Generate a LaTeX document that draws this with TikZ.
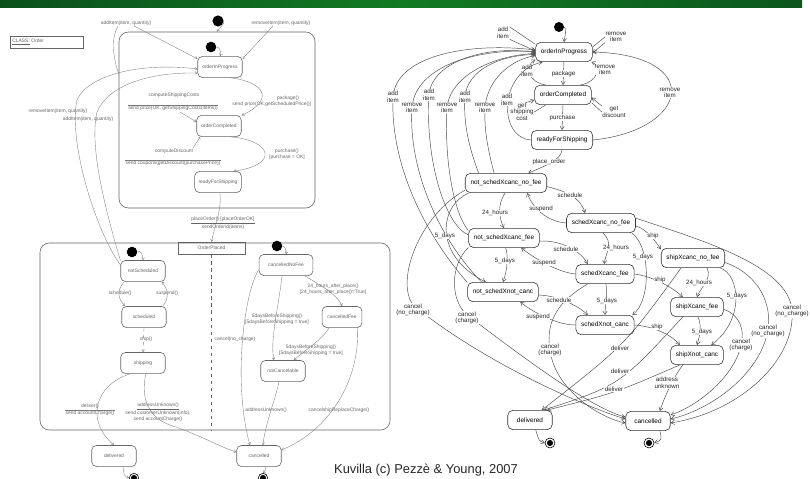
\documentclass[tikz,border=0pt]{standalone}
\usepackage{fontspec}
\setmainfont{Liberation Sans}
\usetikzlibrary{arrows.meta,positioning}
\definecolor{bardark}{RGB}{10,80,28}
\definecolor{barlight}{RGB}{18,122,34}
\definecolor{scan}{RGB}{100,100,100}
\tikzset{
  st/.style={draw=black!80, line width=0.5pt, rounded corners=4.5pt, fill=white,
    minimum height=16.5pt, minimum width=38pt, inner xsep=4.5pt, font=\fontsize{5.5}{6}\selectfont},
  lab/.style={fill=white, inner sep=0.4pt, align=center, text=black!85, font=\fontsize{5.3}{5.6}\selectfont},
  tr/.style={draw=black!70, line width=0.4pt, -{Straight Barb[length=3pt,width=3.6pt]}},
  ln/.style={draw=black!70, line width=0.4pt},
  ini/.style={circle, fill=black, inner sep=0pt, minimum size=8.5pt},
  fin/.style={circle, draw=black, line width=0.5pt, inner sep=0pt, minimum size=8.5pt,
    path picture={\fill (path picture bounding box.center) circle (2.6pt);}},
  lst/.style={draw=scan, line width=0.5pt, rounded corners=4pt, fill=white,
    minimum height=18pt, minimum width=38pt, text=scan, font=\fontsize{4.2}{4.8}\selectfont},
  stx/.style={inner sep=0.3pt, align=center, text=scan, font=\fontsize{4.2}{4.8}\selectfont},
  ltr/.style={draw=scan!85, line width=0.3pt, -{Straight Barb[length=2pt,width=2.4pt]}},
  lln/.style={draw=scan!85, line width=0.3pt},
}

\begin{document}
\begin{tikzpicture}[x=0.03cm,y=-0.03cm]
  \useasboundingbox (0,0) rectangle (810,479);
  \shade[left color=bardark, right color=bardark!85!barlight, middle color=barlight] (0,0) rectangle (802,7.5);

  % left: scanned statechart
  \node[stx, draw=scan, line width=0.4pt, minimum height=0.36cm, text width=2.05cm, inner xsep=2pt, align=left] (cls) at (46.5,42) {\underline{CLASS:} Order};
  \node[draw=scan, line width=0.5pt, rounded corners=8pt, minimum width=5.88cm, minimum height=5.28cm] (obox) at (217,120) {};
  \node[draw=scan, line width=0.5pt, rounded corners=8pt, minimum width=10.5cm, minimum height=5.61cm] (pbox) at (215,336.5) {};
  \node[stx, draw=scan, line width=0.4pt, minimum width=2.01cm, minimum height=0.36cm] (op) at (211.5,248) {OrderPlaced};
  \draw[scan, dashed, line width=0.3pt] (op.south) -- (op.south |- pbox.south);

  \node[ini, minimum size=9.5pt] (li1) at (218,21) {};
  \node[ini, minimum size=9pt] (li2) at (211,47) {};
  \node[lst] (lip) at (220,67) {orderInProgress};
  \node[lst] (loc) at (219,126) {orderCompleted};
  \node[lst] (lrs) at (218,182) {readyForShipping};
  \node[ini, minimum size=9pt] (li3) at (132,252) {};
  \node[lst] (lns) at (143,271) {notScheduled};
  \node[lst] (lsc) at (144,317) {scheduled};
  \node[lst] (lsh) at (143,363) {shipping};
  \node[lst] (ldl) at (114,456) {delivered};
  \node[lst] (lcn) at (259,456) {cancelled};
  \node[ini, minimum size=9pt] (li4) at (277,246) {};
  \node[lst, minimum width=46pt] (lcnf) at (286,265) {cancelledNoFee};
  \node[lst, minimum width=34pt] (lcf) at (342,317) {cancelledFee};
  \node[lst] (lnc) at (283,371) {notCancelable};
  \node[fin, minimum size=8pt] (lfd) at (134,478) {};
  \node[fin, minimum size=8pt] (lfc) at (263,478) {};
  \coordinate (sl1) at (180,112);
  \coordinate (sl2) at (193,148);

  \node[stx] (t1) at (126,23) {addItem(item, quantity)};
  \node[stx] (t2) at (281,23) {removeItem(item, quantity)};
  \node[stx] (t3) at (58,111) {removeItem(item, quantity)};
  \node[stx] (t4) at (88,119) {addItem(item, quantity)};
  \node[stx] (t5) at (174,95) {computeShippingCosts};
  \node[stx] (t6) at (173,108) {send price(OK, getShippingCosts(items))};
  \draw[lln] (t6.north west) -- (t6.north east);
  \node[stx] (t7) at (288,98) {package()};
  \node[stx] (t8) at (272,104) {send price(OK,getScheduledPrice())};
  \node[stx] (t9) at (174,151) {computeDiscount};
  \node[stx] (t10) at (173,163) {send coupons(getDiscount(purchasePrice))};
  \draw[lln] (t10.north west) -- (t10.north east);
  \node[stx] (t11) at (287,154.5) {purchase()\\{}[purchase = OK]};
  \node[stx] (t12) at (223,223) {\underline{placeOrder() [placeOrderOK]}\\sendOrderId(items)};
  \node[stx] (t13) at (120,293) {schedule()};
  \node[stx] (t14) at (167,293) {suspend()};
  \node[stx] (t15) at (146,339) {ship()};
  \node[stx] (t16) at (90,406) {deliver()};
  \node[stx] (t17) at (90,413) {send accountCharge()};
  \draw[lln] (t17.north west) -- (t17.north east);
  \node[stx] (t18) at (158,412) {\underline{addressUnknown()}\\send customerUnknown(info),\\send accountCharge()};
  \node[stx] (t19) at (235,339) {cancel(no\_charge)};
  \node[stx] (t20) at (333,289.5) {24\_hours\_after\_place()\\{}[24\_hours\_after\_place()=True]};
  \node[stx] (t21) at (277,319.5) {5daysBeforeShipping()\\{}[5daysBeforeShipping = true]};
  \node[stx] (t22) at (311,350.5) {5daysBeforeShipping()\\{}[5daysBeforeShipping = true]};
  \node[stx] (t23) at (266,410) {addressUnknown()};
  \node[stx] (t24) at (339,410) {cancelshipReplaceCharge()};

  \draw[ltr] (li1.east) .. controls (225,24) and (219,28) .. (obox.north);
  \draw[ltr] (li2.east) .. controls (218,46) and (222,51) .. (lip.north);
  \draw[ltr] (t1.-20) -- (lip.160);
  \draw[lln] (t1.-160) .. controls (110,40) and (114,60) .. (obox.155);
  \draw[ltr] (t2.-160) -- (lip.20);
  \draw[ltr] (lip.-45) .. controls (265,82) and (275,100) .. (loc.25);
  \draw[ltr] (sl1) -- (loc.170);
  \draw[ltr] (sl2) -- (loc.-150);
  \draw[ltr] (loc.-45) .. controls (272,140) and (280,165) .. (lrs.35);
  \draw[ltr] (lrs.-80) .. controls (222,210) and (214,228) .. (op.north);
  \draw[ltr] (lns.165) .. controls (95,230) and (68,140) .. (77,100) .. controls (88,75) and (140,62) .. (lip.185);
  \draw[ltr] (lns.155) .. controls (110,225) and (88,150) .. (97,112) .. controls (108,85) and (150,72) .. (lip.195);
  \draw[ltr] (li3.east) .. controls (140,250) and (143,254) .. (lns.north);
  \draw[ltr] (lns.-150) .. controls (117,290) and (117,298) .. (lsc.150);
  \draw[ltr] (lsc.30) .. controls (169,298) and (169,290) .. (lns.-30);
  \draw[ltr, dashed] (lsc.south) -- (lsh.north);
  \draw[ltr] (lsh.-140) .. controls (95,385) and (85,420) .. (ldl.north);
  \draw[ltr] (lsh.-75) .. controls (140,400) and (150,418) .. (170,425) .. controls (200,435) and (220,447) .. (lcn.170);
  \draw[ltr] (li4.east) .. controls (284,246) and (287,250) .. (lcnf.north);
  \draw[ltr] (lcnf.190) .. controls (245,290) and (232,380) .. (lcn.130);
  \draw[ltr] (lcnf.-30) .. controls (320,285) and (338,295) .. (lcf.north);
  \draw[ltr] (lcnf.-110) .. controls (278,310) and (270,340) .. (lnc.130);
  \draw[ltr] (lcf.-140) .. controls (322,340) and (305,350) .. (lnc.45);
  \draw[ltr] (lnc.-110) .. controls (275,400) and (265,425) .. (lcn.70);
  \draw[ltr] (lcf.-35) .. controls (360,380) and (330,430) .. (lcn.15);
  \draw[ltr] (ldl.-50) .. controls (124,476) .. (lfd.west);
  \draw[ltr] (lcn.-60) .. controls (266,470) .. (lfc.north);

  % right: order states
  \node[ini] (i0) at (559,27) {};
  \node[st] (ip) at (564,52) {orderInProgress};
  \node[st] (oc) at (563,95) {orderCompleted};
  \node[st] (rs) at (562,140) {readyForShipping};
  \node[st] (n0) at (506,183) {not\_schedXcanc\_no\_fee};
  \node[st] (n1) at (504,238) {not\_schedXcanc\_fee};
  \node[st] (n2) at (503,292) {not\_schedXnot\_canc};
  \node[st] (s0) at (601,223) {schedXcanc\_no\_fee};
  \node[st] (s1) at (605,274) {schedXcanc\_fee};
  \node[st] (s2) at (605,325) {schedXnot\_canc};
  \node[st] (h0) at (693,258) {shipXcanc\_no\_fee};
  \node[st] (h1) at (697,307) {shipXcanc\_fee};
  \node[st] (h2) at (697,355) {shipXnot\_canc};
  \node[st] (dl) at (530,420) {delivered};
  \node[st] (cn) at (648,421) {cancelled};
  \node[fin] (dlf) at (550,443) {};
  \node[fin] (cnf) at (649,443) {};

  \draw[tr] (i0.east) .. controls (567,29) and (565,35) .. (ip.north);
  \node[lab, fill=none] (a1) at (503,33) {add\\item};
  \draw[ln] (a1.north east) -- (ip.165);
  \draw[tr] (a1.south east) -- (ip.178);
  \node[lab, fill=none] (r1) at (616,37) {remove\\item};
  \draw[ln] (r1.west) -- (ip.10);
  \draw[tr] (r1.south west) -- (ip.-2);
  \draw[tr] (ip.south) -- (oc.north) node[lab, midway] (pk) {package};
  \draw[tr] (oc.south) -- (rs.north) node[lab, midway] (pu) {purchase};
  \draw[tr] (oc.150) .. controls (528,82) and (524,66) .. (ip.195);
  \node[lab] (a2) at (527,71) {add\\item};
  \draw[tr] (oc.30) .. controls (598,82) and (602,66) .. (ip.-20);
  \node[lab] (r2) at (605,70) {remove\\item};
  \node[lab, fill=none] (gs) at (522,112) {get\\shipping\\cost};
  \draw[tr] (gs.70) -- (oc.190);
  \draw[ln] (gs.east) -- (oc.-150);
  \node[lab, fill=none] (gd) at (614,112) {get\\discount};
  \draw[tr] (gd.north west) -- (oc.-5);
  \draw[ln] (gd.west) -- (oc.-15);
  \draw[tr] (rs.east) .. controls (690,130) and (705,55) .. (ip.east);
  \node[lab] (r3) at (670,93) {remove\\item};
  \draw[tr] (rs.west) .. controls (498,138) and (498,72) .. (ip.-155);
  \node[lab] (a3) at (507,100) {add\\item};
  \draw[tr] (rs.south) .. controls (561,160) and (545,166) .. (n0.24);
  \node[lab] (po) at (549,162) {place\_order};

  \draw[tr] (n2.165) .. controls (430,240) and (390,170) .. (393,97) .. controls (396,55) and (470,42) .. (ip.176);
  \draw[tr] (n2.155) .. controls (440,240) and (408,170) .. (412,108) .. controls (415,65) and (480,48) .. (ip.179);
  \draw[tr] (n1.175) .. controls (445,225) and (425,160) .. (429,95) .. controls (432,60) and (490,45) .. (ip.181);
  \draw[tr] (n1.168) .. controls (455,215) and (444,165) .. (447,108) .. controls (450,75) and (495,55) .. (ip.183);
  \draw[tr] (n0.160) .. controls (470,150) and (463,125) .. (465,97) .. controls (467,70) and (500,55) .. (ip.185);
  \draw[tr] (n0.140) .. controls (488,150) and (484,130) .. (485,108) .. controls (487,80) and (510,60) .. (ip.187);
  \node[lab] (a4) at (393,97) {add\\item};
  \node[lab] (r4) at (412,108) {remove\\item};
  \node[lab] (a5) at (429,95) {add\\item};
  \node[lab] (r5) at (447,108) {remove\\item};
  \node[lab] (a6) at (465,97) {add\\item};
  \node[lab] (r6) at (485,108) {remove\\item};

  \draw[tr] (n0.-95) .. controls (497,205) and (499,218) .. (n1.north);
  \node[lab] (k1) at (495,213) {24\_hours};
  \draw[tr] (n1.-80) .. controls (508,255) and (508,268) .. (n2.north);
  \node[lab] (k2) at (505,261) {5\_days};
  \draw[tr] (n0.195) .. controls (440,205) and (432,255) .. (n2.150);
  \node[lab] (k3) at (445,236) {5\_days};

  \draw[tr] (n0.190) .. controls (420,215) and (395,280) .. (413,305) .. controls (480,360) and (580,405) .. (cn.175);
  \node[lab] (c1) at (413,310) {cancel\\(no\_charge)};
  \draw[tr] (n1.195) .. controls (450,265) and (450,300) .. (467,315) .. controls (520,355) and (590,408) .. (cn.170);
  \node[lab] (c2) at (467,318) {cancel\\(charge)};
  \draw[tr] (s1.-150) .. controls (560,300) and (545,320) .. (550,350) .. controls (555,390) and (600,418) .. (cn.185);
  \node[lab] (c3) at (550,350) {cancel\\(charge)};

  \draw[tr] (n0.-5) .. controls (560,190) and (580,195) .. (s0.148);
  \node[lab] (q1) at (570,195) {schedule};
  \draw[tr] (s0.west) .. controls (548,222) and (532,208) .. (n0.-25);
  \node[lab] (u1) at (541,209) {suspend};
  \draw[tr] (n1.-5) .. controls (560,240) and (580,250) .. (s1.150);
  \node[lab] (q2) at (566,249) {schedule};
  \draw[tr] (s1.west) .. controls (555,272) and (530,255) .. (n1.-30);
  \node[lab] (u2) at (544,263) {suspend};
  \draw[tr] (n2.-5) .. controls (555,295) and (578,305) .. (s2.150);
  \node[lab] (q3) at (559,300) {schedule};
  \draw[tr] (s2.west) .. controls (555,325) and (530,310) .. (n2.-30);
  \node[lab] (u3) at (538,317) {suspend};

  \draw[tr] (s0.-80) .. controls (614,243) and (606,252) .. (s1.95);
  \node[lab] (k4) at (616,248) {24\_hours};
  \draw[tr] (s1.-85) .. controls (608,295) and (605,305) .. (s2.north);
  \node[lab] (k5) at (607,301) {5\_days};
  \draw[tr] (s0.-18) .. controls (650,245) and (652,300) .. (s2.20);
  \node[lab] (k6) at (643,257) {5\_days};
  \draw[tr] (s0.-5) .. controls (645,228) and (655,240) .. (h0.165);
  \node[lab] (p1) at (653,236) {ship};
  \draw[tr] (s1.east) .. controls (650,276) and (670,285) .. (h1.145);
  \node[lab] (p2) at (660,280) {ship};
  \draw[tr] (s2.east) .. controls (650,326) and (670,333) .. (h2.150);
  \node[lab] (p3) at (657,327) {ship};

  \draw[tr] (h0.-35) .. controls (712,280) and (700,288) .. (h1.north);
  \node[lab] (k7) at (699,283) {24\_hours};
  \draw[tr] (h1.-85) .. controls (702,325) and (700,335) .. (h2.north);
  \node[lab] (k8) at (702,332) {5\_days};
  \draw[tr] (h0.-20) .. controls (740,275) and (745,320) .. (h2.35);
  \node[lab] (k9) at (737,296) {5\_days};
  \draw[tr] (h2.-145) .. controls (675,375) and (665,395) .. (cn.40);
  \node[lab] (au) at (667,383) {address\\unknown};
  \draw[tr] (h1.-5) .. controls (740,315) and (745,330) .. (741,345) .. controls (735,375) and (700,405) .. (cn.15);
  \node[lab] (c4) at (741,345) {cancel\\(charge)};
  \draw[tr] (h0.-8) .. controls (760,275) and (772,305) .. (768,330) .. controls (760,375) and (710,410) .. (cn.5);
  \node[lab] (c5) at (768,331) {cancel\\(no\_charge)};
  \draw[tr] (s0.8) .. controls (700,240) and (788,265) .. (792,310) .. controls (796,360) and (740,412) .. (cn.-5);
  \node[lab] (c6) at (792,311) {cancel\\(no\_charge)};

  \draw[tr] (h0.-140) .. controls (625,345) .. (dl.40);
  \node[lab] (v1) at (620,348) {deliver};
  \draw[tr] (h1.-145) .. controls (620,385) .. (dl.35);
  \node[lab] (v2) at (620,371) {deliver};
  \draw[tr] (h2.-150) .. controls (615,393) .. (dl.30);
  \node[lab] (v3) at (614,389) {deliver};
  \draw[tr] (dl.-60) .. controls (539,441) .. (dlf.west);
  \draw[tr] (cn.-40) .. controls (662,440) .. (cnf.east);

  \node[font=\fontsize{11}{13}\selectfont, text=black!85] (cap) at (426,470) {Kuvilla (c) Pezzè \& Young, 2007};
\end{tikzpicture}
\end{document}
